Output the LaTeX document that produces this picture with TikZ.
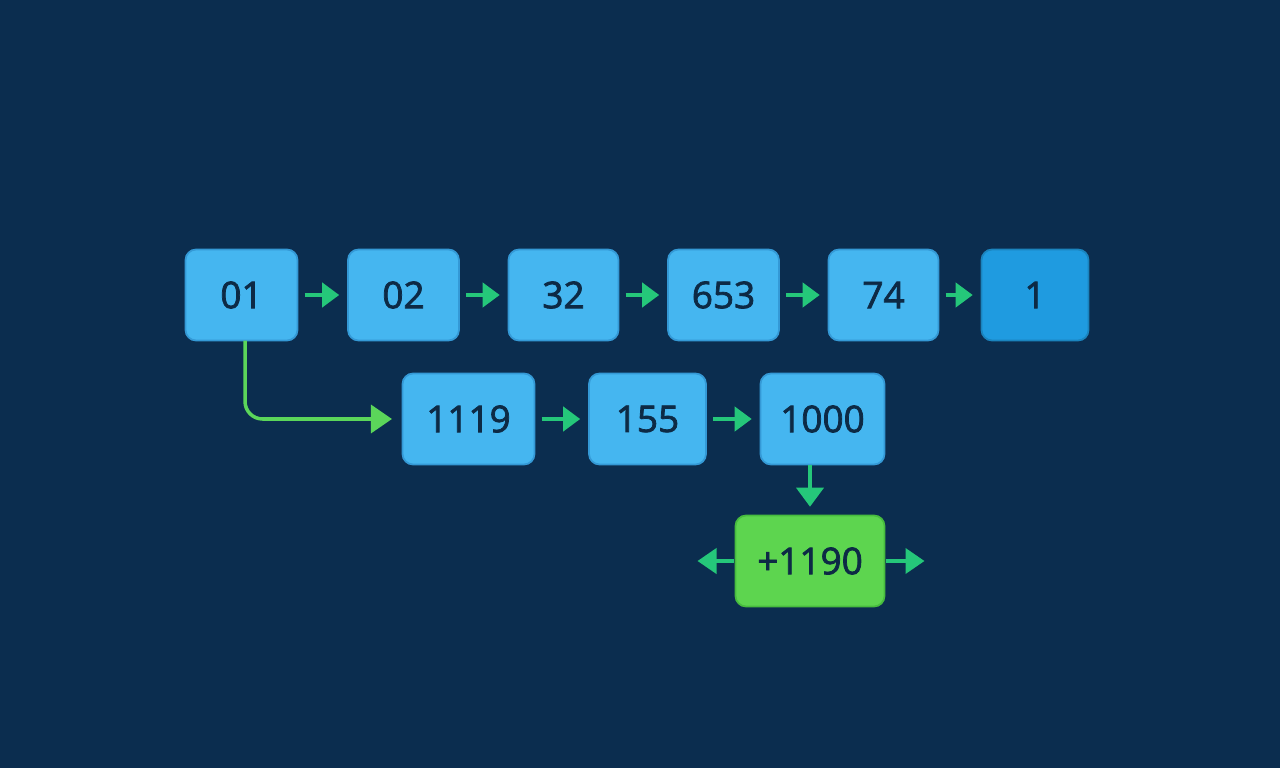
\documentclass[tikz,border=0pt]{standalone}
\usepackage{fontspec}
\setmainfont{Open Sans}
\newfontfamily\cellfont[FakeBold=2]{Open Sans}
\usepackage{tikz}
\usetikzlibrary{arrows.meta,positioning,calc}
\definecolor{bgnavy}{HTML}{0B2D4F}
\definecolor{cellblue}{HTML}{45B6F0}
\definecolor{celledge}{HTML}{3499D6}
\definecolor{lastblue}{HTML}{1F9BE0}
\definecolor{ink}{HTML}{0D2A45}
\definecolor{linkgreen}{HTML}{25C77A}
\definecolor{jumpgreen}{HTML}{5BD65A}
\definecolor{sumgreen}{HTML}{5DD54F}
\definecolor{sumedge}{HTML}{47BC3E}
\tikzset{
  cell/.style   ={rounded corners=6pt,draw=celledge,line width=1pt,fill=cellblue,
                  minimum height=1.82cm,inner sep=0pt,outer sep=0pt,text=ink,
                  font=\cellfont\fontsize{21}{25}\selectfont},
  lastcell/.style={cell,fill=lastblue,draw=lastblue!85!black},
  sumcell/.style={cell,fill=sumgreen,draw=sumedge},
  link/.style   ={-{Triangle[length=3.4mm,width=4.8mm]},line width=2.2pt,draw=linkgreen,
                  shorten <=4pt,shorten >=5pt},
  jump/.style   ={-{Triangle[length=4.2mm,width=5.6mm]},line width=2pt,draw=jumpgreen,
                  rounded corners=10pt}
}
\begin{document}
\begin{tikzpicture}[node distance=0.99cm]
  \fill[bgnavy] (0,0) rectangle (25.6,-15.36);
  \useasboundingbox (0,0) rectangle (25.6,-15.36);
  % top row
  \node[cell,minimum width=2.24cm] (c01) at (4.83,-5.9) {01};
  \node[cell,minimum width=2.22cm,right=1.01cm of c01] (c02) {02};
  \node[cell,minimum width=2.2cm,right=of c02] (c32) {32};
  \node[cell,minimum width=2.22cm,right=of c32] (c653) {653};
  \node[cell,minimum width=2.2cm,right=of c653] (c74) {74};
  \node[lastcell,minimum width=2.14cm,right=0.86cm of c74] (c1) {1};
  % second row
  \node[cell,minimum width=2.64cm] (c1119) at (9.37,-8.38) {1119};
  \node[cell,minimum width=2.34cm,right=1.09cm of c1119] (c155) {155};
  \node[cell,minimum width=2.48cm,right=1.09cm of c155] (c1000) {1000};
  % result
  \node[sumcell,minimum width=2.98cm] (sum) at (16.2,-11.22) {+1190};
  \coordinate[left=0.76cm of sum] (outl);
  \coordinate[right=0.8cm of sum] (outr);
  \draw[link] (c01) -- (c02); \draw[link] (c02) -- (c32);
  \draw[link] (c32) -- (c653); \draw[link] (c653) -- (c74);
  \draw[link] (c74) -- (c1);
  \draw[link] (c1119) -- (c155); \draw[link] (c155) -- (c1000);
  \draw[jump,shorten >=6pt] ([xshift=2pt]c01.south) |- (c1119.west);
  \draw[link,shorten <=0pt,-{Triangle[length=3.8mm,width=5.4mm]}] (c1000.south -| sum.north) -- (sum.north);
  \draw[link,shorten <=1pt,shorten >=0pt,-{Triangle[length=3.8mm,width=5mm]}] (sum.west) -- (outl);
  \draw[link,shorten <=1pt,shorten >=0pt,-{Triangle[length=3.8mm,width=5mm]}] (sum.east) -- (outr);
\end{tikzpicture}
\end{document}
